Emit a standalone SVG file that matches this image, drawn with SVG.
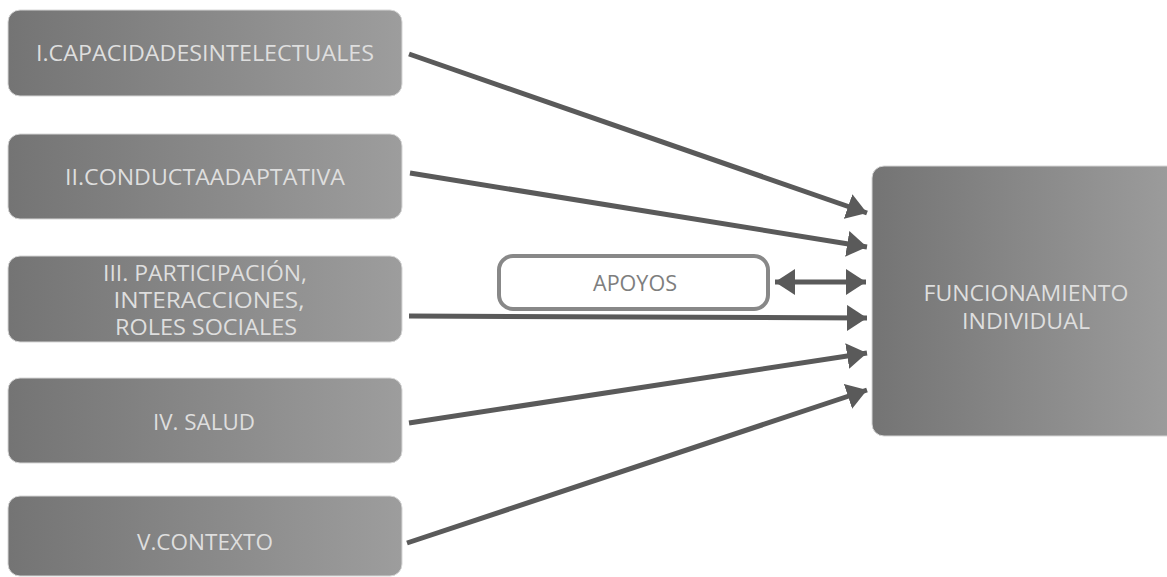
<svg xmlns="http://www.w3.org/2000/svg" width="1167" height="577" viewBox="0 0 1167 577">
  <defs>
    <linearGradient id="boxFill" x1="0" y1="0" x2="1" y2="0">
      <stop offset="0" stop-color="#747474"/>
      <stop offset="1" stop-color="#9d9d9d"/>
    </linearGradient>
    <marker id="head" viewBox="0 0 20 26" refX="20" refY="13" markerWidth="20" markerHeight="26" markerUnits="userSpaceOnUse" orient="auto-start-reverse">
      <path d="M0,0 L20,13 L0,26 Z" fill="#5a5a5a"/>
    </marker>
    <style>
      .box { fill: url(#boxFill); stroke: #d6d6d6; stroke-width: 1; }
      .lbl { font-family: "Open Sans", "Noto Sans", "DejaVu Sans", sans-serif; font-size: 21px; fill: #dedede; text-anchor: middle; dominant-baseline: central; }
      .link { stroke: #5a5a5a; stroke-width: 5; fill: none; marker-end: url(#head); }
    </style>
  </defs>
  <rect width="1167" height="577" fill="#ffffff"/>

  <g id="capacidades">
    <rect class="box" x="8" y="10" width="394" height="86" rx="12"/>
    <text class="lbl" x="205" y="53" textLength="338" lengthAdjust="spacingAndGlyphs">I.CAPACIDADESINTELECTUALES</text>
  </g>
  <g id="conducta">
    <rect class="box" x="8" y="134" width="394" height="85" rx="12"/>
    <text class="lbl" x="205" y="177" textLength="280" lengthAdjust="spacingAndGlyphs">II.CONDUCTAADAPTATIVA</text>
  </g>
  <g id="participacion">
    <rect class="box" x="8" y="256" width="394" height="86" rx="12"/>
    <text class="lbl" x="205" y="273" textLength="204" lengthAdjust="spacingAndGlyphs">III. PARTICIPACIÓN,</text>
    <text class="lbl" x="209" y="300" textLength="191" lengthAdjust="spacingAndGlyphs">INTERACCIONES,</text>
    <text class="lbl" x="206" y="327" textLength="182" lengthAdjust="spacingAndGlyphs">ROLES SOCIALES</text>
  </g>
  <g id="salud">
    <rect class="box" x="8" y="378" width="394" height="85" rx="12"/>
    <text class="lbl" x="204" y="422" textLength="102" lengthAdjust="spacingAndGlyphs">IV. SALUD</text>
  </g>
  <g id="contexto">
    <rect class="box" x="8" y="496" width="394" height="80" rx="12"/>
    <text class="lbl" x="205" y="542" textLength="136" lengthAdjust="spacingAndGlyphs">V.CONTEXTO</text>
  </g>
  <g id="funcionamiento">
    <rect class="box" x="872" y="166" width="310" height="270" rx="12"/>
    <text class="lbl" x="1026" y="293" textLength="205" lengthAdjust="spacingAndGlyphs">FUNCIONAMIENTO</text>
    <text class="lbl" x="1026" y="321" textLength="128" lengthAdjust="spacingAndGlyphs">INDIVIDUAL</text>
  </g>
  <g id="apoyos">
    <rect x="499" y="256" width="269" height="53" rx="14" fill="#ffffff" stroke="#888888" stroke-width="4"/>
    <text class="lbl" x="635" y="283" textLength="84" lengthAdjust="spacingAndGlyphs" style="fill:#7e7e7e">APOYOS</text>
  </g>

  <g id="connectors">
    <line class="link" x1="409" y1="54" x2="867" y2="213"/>
    <line class="link" x1="410" y1="173" x2="867" y2="247"/>
    <line class="link" x1="775" y1="282" x2="866" y2="282" marker-start="url(#head)"/>
    <line class="link" x1="409" y1="316" x2="867" y2="318"/>
    <line class="link" x1="409" y1="423" x2="867" y2="353"/>
    <line class="link" x1="407" y1="543" x2="867" y2="390"/>
  </g>
</svg>
